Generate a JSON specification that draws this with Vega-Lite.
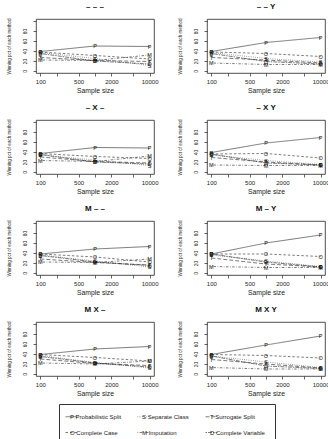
{
  "$schema": "https://vega.github.io/schema/vega-lite/v6.json",
  "padding": {"left": 5, "top": 2, "right": 4, "bottom": 1},
  "background": "white",
  "data": {"values": [
    {"panel":"– – –","method":"P","n":100,"pct":39},{"panel":"– – –","method":"P","n":1000,"pct":50},{"panel":"– – –","method":"P","n":10000,"pct":49},
    {"panel":"– – –","method":"O","n":100,"pct":38},{"panel":"– – –","method":"O","n":1000,"pct":31},{"panel":"– – –","method":"O","n":10000,"pct":24},
    {"panel":"– – –","method":"S","n":100,"pct":37},{"panel":"– – –","method":"S","n":1000,"pct":25},{"panel":"– – –","method":"S","n":10000,"pct":11},
    {"panel":"– – –","method":"T","n":100,"pct":27},{"panel":"– – –","method":"T","n":1000,"pct":21},{"panel":"– – –","method":"T","n":10000,"pct":19},
    {"panel":"– – –","method":"M","n":100,"pct":22},{"panel":"– – –","method":"M","n":1000,"pct":21},{"panel":"– – –","method":"M","n":10000,"pct":32},
    {"panel":"– – –","method":"D","n":100,"pct":35},{"panel":"– – –","method":"D","n":1000,"pct":20},{"panel":"– – –","method":"D","n":10000,"pct":14},

    {"panel":"– – Y","method":"P","n":100,"pct":39},{"panel":"– – Y","method":"P","n":1000,"pct":57},{"panel":"– – Y","method":"P","n":10000,"pct":67},
    {"panel":"– – Y","method":"O","n":100,"pct":38},{"panel":"– – Y","method":"O","n":1000,"pct":35},{"panel":"– – Y","method":"O","n":10000,"pct":29},
    {"panel":"– – Y","method":"S","n":100,"pct":37},{"panel":"– – Y","method":"S","n":1000,"pct":25},{"panel":"– – Y","method":"S","n":10000,"pct":18},
    {"panel":"– – Y","method":"T","n":100,"pct":27},{"panel":"– – Y","method":"T","n":1000,"pct":22},{"panel":"– – Y","method":"T","n":10000,"pct":16},
    {"panel":"– – Y","method":"M","n":100,"pct":16},{"panel":"– – Y","method":"M","n":1000,"pct":13},{"panel":"– – Y","method":"M","n":10000,"pct":13},
    {"panel":"– – Y","method":"D","n":100,"pct":35},{"panel":"– – Y","method":"D","n":1000,"pct":19},{"panel":"– – Y","method":"D","n":10000,"pct":14},

    {"panel":"– X –","method":"P","n":100,"pct":37},{"panel":"– X –","method":"P","n":1000,"pct":49},{"panel":"– X –","method":"P","n":10000,"pct":48},
    {"panel":"– X –","method":"O","n":100,"pct":37},{"panel":"– X –","method":"O","n":1000,"pct":31},{"panel":"– X –","method":"O","n":10000,"pct":27},
    {"panel":"– X –","method":"S","n":100,"pct":34},{"panel":"– X –","method":"S","n":1000,"pct":24},{"panel":"– X –","method":"S","n":10000,"pct":13},
    {"panel":"– X –","method":"T","n":100,"pct":30},{"panel":"– X –","method":"T","n":1000,"pct":21},{"panel":"– X –","method":"T","n":10000,"pct":18},
    {"panel":"– X –","method":"M","n":100,"pct":23},{"panel":"– X –","method":"M","n":1000,"pct":21},{"panel":"– X –","method":"M","n":10000,"pct":32},
    {"panel":"– X –","method":"D","n":100,"pct":35},{"panel":"– X –","method":"D","n":1000,"pct":20},{"panel":"– X –","method":"D","n":10000,"pct":16},

    {"panel":"– X Y","method":"P","n":100,"pct":39},{"panel":"– X Y","method":"P","n":1000,"pct":58},{"panel":"– X Y","method":"P","n":10000,"pct":69},
    {"panel":"– X Y","method":"O","n":100,"pct":36},{"panel":"– X Y","method":"O","n":1000,"pct":37},{"panel":"– X Y","method":"O","n":10000,"pct":28},
    {"panel":"– X Y","method":"S","n":100,"pct":34},{"panel":"– X Y","method":"S","n":1000,"pct":23},{"panel":"– X Y","method":"S","n":10000,"pct":15},
    {"panel":"– X Y","method":"T","n":100,"pct":29},{"panel":"– X Y","method":"T","n":1000,"pct":20},{"panel":"– X Y","method":"T","n":10000,"pct":14},
    {"panel":"– X Y","method":"M","n":100,"pct":14},{"panel":"– X Y","method":"M","n":1000,"pct":13},{"panel":"– X Y","method":"M","n":10000,"pct":13},
    {"panel":"– X Y","method":"D","n":100,"pct":36},{"panel":"– X Y","method":"D","n":1000,"pct":18},{"panel":"– X Y","method":"D","n":10000,"pct":14},

    {"panel":"M – –","method":"P","n":100,"pct":38},{"panel":"M – –","method":"P","n":1000,"pct":48},{"panel":"M – –","method":"P","n":10000,"pct":53},
    {"panel":"M – –","method":"O","n":100,"pct":38},{"panel":"M – –","method":"O","n":1000,"pct":32},{"panel":"M – –","method":"O","n":10000,"pct":22},
    {"panel":"M – –","method":"S","n":100,"pct":36},{"panel":"M – –","method":"S","n":1000,"pct":24},{"panel":"M – –","method":"S","n":10000,"pct":12},
    {"panel":"M – –","method":"T","n":100,"pct":28},{"panel":"M – –","method":"T","n":1000,"pct":21},{"panel":"M – –","method":"T","n":10000,"pct":16},
    {"panel":"M – –","method":"M","n":100,"pct":22},{"panel":"M – –","method":"M","n":1000,"pct":21},{"panel":"M – –","method":"M","n":10000,"pct":28},
    {"panel":"M – –","method":"D","n":100,"pct":35},{"panel":"M – –","method":"D","n":1000,"pct":22},{"panel":"M – –","method":"D","n":10000,"pct":15},

    {"panel":"M – Y","method":"P","n":100,"pct":38},{"panel":"M – Y","method":"P","n":1000,"pct":60},{"panel":"M – Y","method":"P","n":10000,"pct":76},
    {"panel":"M – Y","method":"O","n":100,"pct":38},{"panel":"M – Y","method":"O","n":1000,"pct":38},{"panel":"M – Y","method":"O","n":10000,"pct":33},
    {"panel":"M – Y","method":"S","n":100,"pct":36},{"panel":"M – Y","method":"S","n":1000,"pct":24},{"panel":"M – Y","method":"S","n":10000,"pct":13},
    {"panel":"M – Y","method":"T","n":100,"pct":30},{"panel":"M – Y","method":"T","n":1000,"pct":18},{"panel":"M – Y","method":"T","n":10000,"pct":12},
    {"panel":"M – Y","method":"M","n":100,"pct":13},{"panel":"M – Y","method":"M","n":1000,"pct":11},{"panel":"M – Y","method":"M","n":10000,"pct":11},
    {"panel":"M – Y","method":"D","n":100,"pct":38},{"panel":"M – Y","method":"D","n":1000,"pct":22},{"panel":"M – Y","method":"D","n":10000,"pct":12},

    {"panel":"M X –","method":"P","n":100,"pct":39},{"panel":"M X –","method":"P","n":1000,"pct":50},{"panel":"M X –","method":"P","n":10000,"pct":55},
    {"panel":"M X –","method":"O","n":100,"pct":39},{"panel":"M X –","method":"O","n":1000,"pct":33},{"panel":"M X –","method":"O","n":10000,"pct":26},
    {"panel":"M X –","method":"S","n":100,"pct":37},{"panel":"M X –","method":"S","n":1000,"pct":23},{"panel":"M X –","method":"S","n":10000,"pct":12},
    {"panel":"M X –","method":"T","n":100,"pct":30},{"panel":"M X –","method":"T","n":1000,"pct":21},{"panel":"M X –","method":"T","n":10000,"pct":17},
    {"panel":"M X –","method":"M","n":100,"pct":22},{"panel":"M X –","method":"M","n":1000,"pct":20},{"panel":"M X –","method":"M","n":10000,"pct":26},
    {"panel":"M X –","method":"D","n":100,"pct":35},{"panel":"M X –","method":"D","n":1000,"pct":22},{"panel":"M X –","method":"D","n":10000,"pct":14},

    {"panel":"M X Y","method":"P","n":100,"pct":39},{"panel":"M X Y","method":"P","n":1000,"pct":58},{"panel":"M X Y","method":"P","n":10000,"pct":76},
    {"panel":"M X Y","method":"O","n":100,"pct":39},{"panel":"M X Y","method":"O","n":1000,"pct":37},{"panel":"M X Y","method":"O","n":10000,"pct":32},
    {"panel":"M X Y","method":"S","n":100,"pct":36},{"panel":"M X Y","method":"S","n":1000,"pct":24},{"panel":"M X Y","method":"S","n":10000,"pct":13},
    {"panel":"M X Y","method":"T","n":100,"pct":29},{"panel":"M X Y","method":"T","n":1000,"pct":20},{"panel":"M X Y","method":"T","n":10000,"pct":12},
    {"panel":"M X Y","method":"M","n":100,"pct":13},{"panel":"M X Y","method":"M","n":1000,"pct":10},{"panel":"M X Y","method":"M","n":10000,"pct":10},
    {"panel":"M X Y","method":"D","n":100,"pct":36},{"panel":"M X Y","method":"D","n":1000,"pct":16},{"panel":"M X Y","method":"D","n":10000,"pct":11}
  ]},
  "facet": {
    "field": "panel",
    "type": "nominal",
    "sort": ["– – –", "– – Y", "– X –", "– X Y", "M – –", "M – Y", "M X –", "M X Y"],
    "header": {
      "title": null,
      "labelFont": "Liberation Sans",
      "labelFontSize": 8,
      "labelFontWeight": "bold",
      "labelColor": "#111",
      "labelPadding": 7
    }
  },
  "columns": 2,
  "spacing": {"row": 8, "column": 17},
  "resolve": {"axis": {"x": "independent", "y": "independent"}},
  "spec": {
    "width": 118,
    "height": 54,
    "encoding": {
      "x": {
        "field": "n",
        "type": "quantitative",
        "scale": {"type": "log", "domain": [83.2, 12023], "nice": false},
        "axis": {
          "title": "Sample size",
          "values": [100, 200, 500, 1000, 2000, 5000, 10000],
          "format": "d",
          "labelExpr": "indexof([200, 1000, 5000], datum.value) >= 0 ? '' : datum.label",
          "labelOverlap": false,
          "labelFlush": false,
          "labelFontSize": 6,
          "labelPadding": 2,
          "titleFontSize": 6.8,
          "titlePadding": 3
        }
      },
      "y": {
        "field": "pct",
        "type": "quantitative",
        "scale": {"domain": [-4, 104], "nice": false, "zero": false},
        "axis": {
          "title": "Winning pct of each method",
          "values": [0, 20, 40, 60, 80, 100],
          "labelExpr": "datum.value == 100 ? '' : datum.label",
          "labelAngle": 270,
          "labelAlign": "center",
          "labelBaseline": "bottom",
          "labelFontSize": 4.8,
          "labelPadding": 6,
          "titleFontSize": 4.5,
          "titlePadding": 11,
          "labelOverlap": false
        }
      }
    },
    "layer": [
      {
        "mark": {"type": "line", "stroke": "#222", "strokeWidth": 0.6},
        "encoding": {
          "strokeDash": {
            "field": "method",
            "type": "nominal",
            "scale": {
              "domain": ["P", "S", "T", "O", "M", "D"],
              "range": [[1, 0], [0.7, 1.5], [4, 2], [2.5, 2], [0.7, 1.5, 2.5, 1.5], [1.5, 1, 4, 1]]
            },
            "legend": {
              "title": null,
              "orient": "bottom",
              "columns": 3,
              "symbolType": "stroke",
              "symbolSize": 144,
              "symbolStrokeColor": "#222",
              "symbolStrokeWidth": 0.6,
              "labelFont": "Liberation Sans",
              "labelFontSize": 6,
              "labelColor": "#222",
              "labelOffset": -8,
              "labelExpr": "datum.label + '   ' + {'P': 'Probabilistic Split', 'S': 'Separate Class', 'T': 'Surrogate Split', 'O': 'Complete Case', 'M': 'Imputation', 'D': 'Complete Variable'}[datum.label]",
              "strokeColor": "#333",
              "padding": 6,
              "rowPadding": 6,
              "columnPadding": 11,
              "offset": 6
            }
          }
        }
      },
      {
        "mark": {"type": "text", "font": "Liberation Sans", "fontSize": 5.5, "color": "#111", "baseline": "middle"},
        "encoding": {"text": {"field": "method"}}
      }
    ]
  },
  "config": {
    "font": "Liberation Sans",
    "view": {"stroke": "#222", "strokeWidth": 0.8},
    "axis": {
      "grid": false,
      "domain": false,
      "tickColor": "#222",
      "tickSize": 3,
      "tickWidth": 0.7,
      "labelFont": "Liberation Sans",
      "labelColor": "#222",
      "titleFont": "Liberation Sans",
      "titleFontWeight": "normal",
      "titleColor": "#222"
    },
    "legend": {"layout": {"bottom": {"anchor": "middle"}}}
  }
}
